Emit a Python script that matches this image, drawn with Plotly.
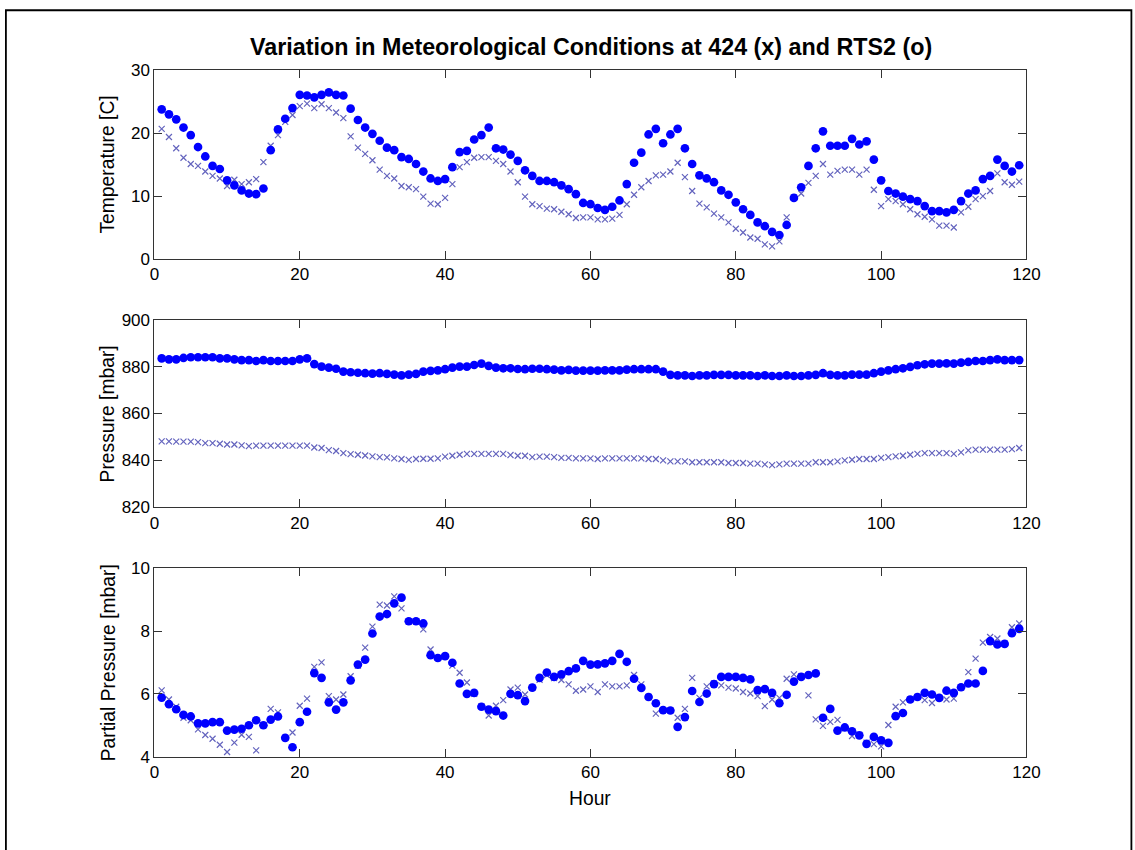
import plotly.graph_objects as go

hours = list(range(1, 120))

temp_424 = [20.7, 19.4, 17.6, 16.1, 15.1, 14.8, 13.9, 13.2, 12.8, 11.6, 12.6, 11.9, 12.2, 12.7, 15.4, 18.0, 19.7, 21.8, 22.9, 24.3,
            24.7, 24.0, 24.6, 24.0, 23.3, 22.4, 19.5, 17.7, 16.7, 15.7, 14.2, 13.2, 12.8, 11.6, 11.4, 11.1, 9.9, 8.8, 8.7, 9.7,
            11.9, 14.6, 15.4, 16.1, 16.2, 16.2, 15.6, 15.1, 13.9, 12.2, 9.9, 8.7, 8.4, 8.0, 7.9, 7.5, 7.1, 6.5, 6.6, 6.6,
            6.3, 6.3, 6.4, 7.0, 8.7, 10.2, 11.4, 12.4, 13.3, 13.4, 13.9, 15.3, 13.0, 10.8, 8.8, 8.2, 7.2, 6.6, 5.8, 4.8,
            4.2, 3.4, 3.2, 2.3, 2.0, 2.8, 6.6, 9.8, 10.4, 12.1, 13.2, 15.1, 13.4, 14.0, 14.2, 14.2, 13.4, 14.2, 11.0, 8.4,
            9.5, 9.2, 8.7, 7.9, 7.1, 6.7, 6.3, 5.3, 5.3, 5.0, 7.4, 8.3, 9.5, 10.0, 10.8, 13.6, 12.2, 11.8, 12.3]
temp_rts2 = [23.8, 23.0, 22.2, 20.9, 19.7, 17.8, 16.3, 14.8, 14.3, 12.5, 11.7, 10.9, 10.4, 10.3, 11.2, 17.3, 20.6, 22.3, 24.0, 26.1,
             26.0, 25.7, 26.1, 26.5, 26.1, 26.0, 23.9, 22.1, 20.9, 19.9, 18.8, 17.7, 17.3, 16.2, 15.9, 15.1, 13.9, 12.8, 12.4, 12.7,
             14.6, 17.0, 17.2, 19.0, 19.7, 20.9, 17.6, 17.4, 16.6, 15.6, 14.1, 13.2, 12.4, 12.4, 12.2, 11.7, 11.1, 10.3, 8.9, 8.7,
             8.1, 7.8, 8.3, 9.3, 11.9, 15.3, 16.9, 19.8, 20.7, 18.4, 19.8, 20.7, 17.6, 15.1, 13.3, 12.8, 12.2, 10.9, 10.2, 9.0,
             7.9, 7.0, 5.8, 5.2, 4.3, 3.8, 5.4, 9.7, 11.4, 14.8, 17.6, 20.3, 18.0, 18.0, 18.0, 19.1, 18.2, 18.7, 15.8, 12.5,
             10.8, 10.4, 9.9, 9.5, 9.2, 8.4, 7.6, 7.6, 7.4, 7.8, 9.2, 10.4, 10.9, 12.7, 13.2, 15.8, 14.8, 13.9, 14.9]

pres_424 = [848.1, 848.1, 848.0, 848.0, 848.0, 847.8, 847.4, 847.4, 847.1, 846.8, 846.8, 846.4, 846.1, 846.3, 846.3, 846.3, 846.3, 846.3, 846.3, 846.3,
            846.3, 845.5, 845.3, 844.4, 844.0, 843.1, 842.7, 842.4, 842.1, 841.7, 841.4, 841.3, 840.9, 840.6, 840.2, 840.6, 840.7, 840.7, 840.9, 841.6,
            842.0, 842.4, 842.8, 842.8, 842.8, 842.8, 842.8, 842.8, 842.3, 842.0, 842.0, 841.4, 841.6, 841.6, 841.4, 841.1, 841.1, 840.9, 840.9, 840.9,
            840.6, 840.9, 840.9, 840.9, 840.9, 840.9, 840.9, 840.6, 840.6, 840.0, 839.6, 839.6, 839.6, 839.2, 839.2, 839.2, 839.2, 839.2, 838.9, 838.9,
            838.9, 838.6, 838.6, 838.3, 838.0, 838.3, 838.6, 838.6, 838.6, 838.6, 839.2, 839.2, 839.2, 839.6, 840.0, 840.3, 840.6, 840.6, 840.6, 841.1,
            841.4, 841.7, 842.0, 842.4, 842.8, 843.1, 843.1, 843.1, 843.1, 842.8, 843.4, 844.3, 844.6, 844.6, 844.6, 844.6, 844.6, 844.8, 845.3]
pres_rts2 = [883.5, 883.1, 883.1, 883.7, 884.0, 884.0, 884.0, 884.0, 883.5, 883.5, 883.1, 882.8, 882.8, 882.4, 882.8, 882.4, 882.4, 882.4, 882.4, 883.1,
             883.5, 881.1, 880.0, 879.6, 879.1, 877.9, 877.6, 877.4, 877.2, 877.0, 877.2, 876.9, 876.6, 876.3, 876.6, 876.9, 877.9, 878.2, 878.4, 878.9,
             879.6, 880.0, 880.0, 880.7, 881.3, 880.3, 879.6, 879.3, 879.3, 879.0, 878.9, 879.1, 879.1, 878.9, 878.7, 878.4, 878.6, 878.3, 878.3, 878.3,
             878.3, 878.4, 878.4, 878.4, 878.7, 878.9, 878.9, 878.9, 878.9, 877.9, 876.5, 876.3, 876.3, 876.0, 876.3, 876.3, 876.5, 876.5, 876.5, 876.3,
             876.3, 876.3, 876.0, 876.3, 876.0, 876.0, 876.3, 876.0, 876.0, 876.3, 876.5, 877.2, 876.5, 876.3, 876.3, 876.6, 876.6, 876.6, 877.2, 877.9,
             878.4, 878.9, 879.3, 879.9, 880.6, 881.0, 881.3, 881.3, 881.4, 881.3, 881.7, 882.0, 882.4, 882.4, 882.8, 883.1, 882.8, 882.8, 882.8]

pp_424 = [6.11, 5.82, 5.59, 5.24, 5.16, 4.87, 4.69, 4.57, 4.38, 4.15, 4.45, 4.70, 4.63, 4.20, 5.00, 5.52, 5.41, 4.60, 4.77, 5.62,
          5.85, 6.86, 7.00, 5.93, 5.82, 5.98, 6.56, 6.90, 7.47, 8.14, 8.84, 8.81, 9.10, 8.72, 8.30, 8.30, 8.05, 7.41, 7.14, 7.20,
          6.90, 6.67, 6.36, 6.00, 5.60, 5.31, 5.62, 5.80, 6.14, 6.20, 5.98, 6.20, 6.45, 6.60, 6.50, 6.44, 6.30, 6.10, 6.14, 6.24,
          6.06, 6.30, 6.24, 6.24, 6.27, 6.60, 6.30, 5.90, 5.37, 5.48, 5.47, 5.24, 5.52, 6.51, 5.87, 6.24, 6.33, 6.27, 6.20, 6.17,
          6.06, 6.01, 5.93, 5.61, 5.82, 5.87, 6.48, 6.62, 6.56, 5.95, 5.19, 4.98, 5.11, 5.17, 4.90, 4.66, 4.70, 4.45, 4.40, 4.33,
          5.01, 5.59, 5.73, 5.82, 5.90, 5.80, 5.71, 5.87, 5.82, 5.85, 6.20, 6.69, 7.12, 7.63, 7.81, 7.76, 7.60, 8.12, 8.24]
pp_rts2 = [5.88, 5.67, 5.51, 5.33, 5.28, 5.06, 5.06, 5.10, 5.10, 4.83, 4.86, 4.89, 5.00, 5.16, 5.00, 5.18, 5.28, 4.60, 4.30, 5.10,
           5.43, 6.66, 6.51, 5.73, 5.50, 5.73, 6.43, 6.93, 7.09, 7.92, 8.46, 8.54, 8.88, 9.06, 8.31, 8.31, 8.24, 7.23, 7.14, 7.20,
           6.99, 6.33, 6.00, 6.03, 5.59, 5.50, 5.45, 5.31, 6.00, 5.96, 5.77, 6.20, 6.51, 6.68, 6.54, 6.62, 6.72, 6.81, 7.05, 6.93,
           6.94, 6.97, 7.05, 7.27, 7.02, 6.48, 6.19, 5.90, 5.70, 5.48, 5.47, 4.95, 5.26, 6.09, 5.74, 6.01, 6.31, 6.54, 6.54, 6.54,
           6.51, 6.46, 6.12, 6.15, 6.03, 5.70, 5.97, 6.39, 6.54, 6.60, 6.65, 5.24, 5.52, 4.83, 4.93, 4.81, 4.68, 4.41, 4.63, 4.52,
           4.44, 5.29, 5.39, 5.82, 5.90, 6.03, 5.98, 5.87, 6.10, 6.03, 6.21, 6.33, 6.33, 6.73, 7.68, 7.57, 7.59, 7.93, 8.07]

x_ticks = [0, 20, 40, 60, 80, 100, 120]
panels = [
    ("Temperature [C]", temp_424, temp_rts2, [0, 30], [0, 10, 20, 30]),
    ("Pressure [mbar]", pres_424, pres_rts2, [820, 900], [820, 840, 860, 880, 900]),
    ("Partial Pressure [mbar]", pp_424, pp_rts2, [4, 10], [4, 6, 8, 10]),
]

W, H = 1150, 850


# the captured page is slightly offset/scaled; convert target screen pixels to figure pixels
def fx(px):
    return (px - 4.0) / 0.984


def fy(py):
    return (py - 8.5) / 0.980


x_dom = [fx(153.5) / W, fx(1026.0) / W]
y_px = [(70, 259), (320, 508), (569, 758)]

FONT = "Liberation Sans, Arial, sans-serif"
cross_col = "rgb(100,100,190)"
circ_col = "rgb(0,0,255)"

fig = go.Figure()
annotations = []
for i, (ylabel, s424, srts, yr, yt) in enumerate(panels):
    n = "" if i == 0 else str(i + 1)
    fig.add_trace(go.Scatter(x=hours, y=s424, mode="markers", xaxis="x" + n, yaxis="y" + n,
                             marker=dict(symbol="x-thin", size=6, color=cross_col,
                                         line=dict(color=cross_col, width=1.2)),
                             showlegend=False, hoverinfo="x+y"))
    fig.add_trace(go.Scatter(x=hours, y=srts, mode="markers", xaxis="x" + n, yaxis="y" + n,
                             marker=dict(symbol="circle", size=8.7, color=circ_col, line=dict(width=0)),
                             showlegend=False, hoverinfo="x+y"))
    top, bot = y_px[i]
    ydom = [1 - fy(bot) / H, 1 - fy(top) / H]
    axis_common = dict(showline=True, linecolor="#333333", linewidth=1, mirror="ticks",
                       ticks="inside", ticklen=8, tickcolor="#333333", showgrid=False,
                       zeroline=False, tickfont=dict(family=FONT, size=17, color="black"))
    fig.update_layout(**{
        "xaxis" + n: dict(domain=x_dom, range=[0, 120], tickvals=x_ticks, anchor="y" + n, **axis_common),
        "yaxis" + n: dict(domain=ydom, range=yr, tickvals=yt, anchor="x" + n, **axis_common),
    })
    annotations.append(dict(text=ylabel, x=fx(107) / W, y=1 - fy((top + bot) / 2) / H, xref="paper", yref="paper",
                            textangle=-90, showarrow=False, xanchor="center", yanchor="middle",
                            font=dict(family=FONT, size=19.3, color="black")))

annotations.append(dict(text="Hour", x=fx(589.5) / W, y=1 - fy(800) / H, xref="paper", yref="paper",
                        showarrow=False, xanchor="center", yanchor="middle",
                        font=dict(family=FONT, size=19.3, color="black")))
annotations.append(dict(text="<b>Variation in Meteorological Conditions at 424 (x) and RTS2 (o)</b>",
                        x=fx(590) / W, y=1 - fy(47) / H, xref="paper", yref="paper",
                        showarrow=False, xanchor="center", yanchor="middle",
                        font=dict(family=FONT, size=23.3, color="black")))

fig.update_layout(
    width=W, height=H,
    margin=dict(l=0, r=0, t=0, b=0),
    paper_bgcolor="white", plot_bgcolor="white",
    annotations=annotations,
    shapes=[dict(type="rect", xref="paper", yref="paper", x0=0.0008, x1=fx(1131) / W, y0=-0.05, y1=0.9985,
                 line=dict(color="black", width=1.8), fillcolor="rgba(0,0,0,0)", layer="below")],
)

fig.write_html("out.html")
